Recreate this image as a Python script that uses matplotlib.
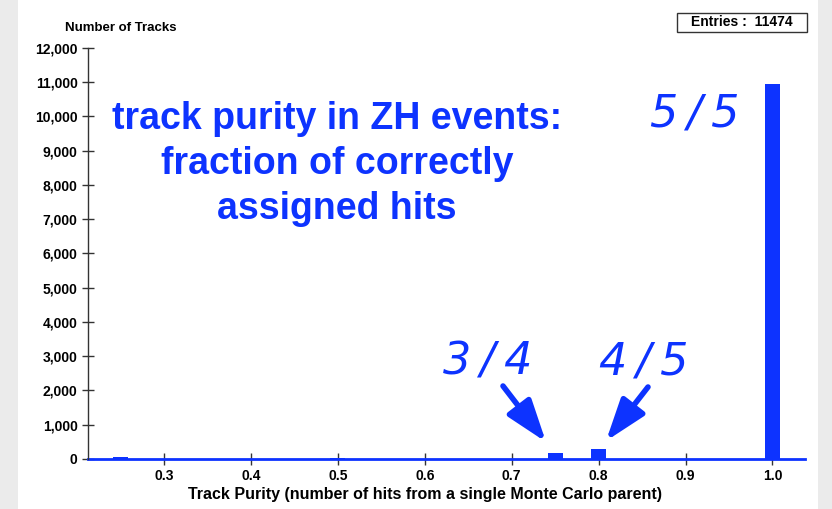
import matplotlib.pyplot as plt
from matplotlib.patches import Rectangle
from matplotlib.ticker import FuncFormatter

# purity values (fraction of hits from one MC parent) and track counts
purity = [0.25, 0.4, 0.5, 0.6, 0.75, 0.8, 1.0]
tracks = [45, 8, 22, 4, 165, 280, 10950]
entries = 11474

xticks = [0.3, 0.4, 0.5, 0.6, 0.7, 0.8, 0.9, 1.0]
yticks = list(range(0, 12001, 1000))

blue = '#0d33ff'
plt.rcParams['font.family'] = ['Liberation Sans', 'DejaVu Sans']

fig = plt.figure(figsize=(8.32, 5.09), dpi=100)
fig.patch.set_facecolor('#ebebeb')
# white page between the grey side strips
fig.patches.append(Rectangle((18 / 832, 0), 800 / 832, 1, transform=fig.transFigure,
                             facecolor='white', edgecolor='none', zorder=-1))

ax = fig.add_axes([88 / 832, 1 - 459 / 509, (805 - 88) / 832, (459 - 47.7) / 509])
ax.set_facecolor('none')
ax.set_zorder(1)

ax.bar(purity, tracks, width=0.0175, color=blue, align='center', zorder=3)
ax.axhline(0, color=blue, lw=2, zorder=2, clip_on=False)

ax.set_xlim(0.2125, 1.0375)
ax.set_ylim(0, 12000)
ax.set_xticks(xticks)
ax.set_yticks(yticks)
ax.xaxis.set_major_formatter(FuncFormatter(lambda v, p: f'{v:.1f}'))
ax.yaxis.set_major_formatter(FuncFormatter(lambda v, p: f'{int(v):,}'))
ax.tick_params(direction='inout', length=9, width=1, color='#333333',
               labelsize=10, pad=3)
for lab in ax.get_xticklabels() + ax.get_yticklabels():
    lab.set_fontweight('bold')

for s in ['top', 'right', 'bottom']:
    ax.spines[s].set_visible(False)
ax.spines['left'].set_color('#333333')
ax.spines['left'].set_linewidth(1)

fig.text(425 / 832, 1 - 494 / 509,
         'Track Purity (number of hits from a single Monte Carlo parent)',
         fontsize=11.5, fontweight='bold', ha='center', va='center')
fig.text(65 / 832, 1 - 28 / 509, 'Number of Tracks', fontsize=9.5,
         fontweight='bold', va='center', ha='left')

# statistics box
fig.patches.append(Rectangle((677 / 832, 1 - 32 / 509), 130 / 832, 19 / 509,
                             transform=fig.transFigure, facecolor='white',
                             edgecolor='#333333', lw=1, zorder=2))
fig.text(742 / 832, 1 - 22.5 / 509, f'Entries :  {entries}', fontsize=10,
         fontweight='bold', ha='center', va='center', zorder=3)

fig.text(337 / 832, 1 - 164 / 509,
         'track purity in ZH events:\nfraction of correctly\nassigned hits',
         fontsize=27, fontweight='bold', color=blue, ha='center', va='center',
         linespacing=1.32, zorder=3)

# handwritten labels with arrows
hand = dict(fontsize=32, color=blue, fontstyle='italic', ha='center',
            va='center', family=['DejaVu Sans'], zorder=3)
fig.text(695 / 832, 1 - 114 / 509, '5\u2009/\u20095', **hand)
fig.text(488 / 832, 1 - 362 / 509, '3\u2009/\u20094', **hand)
fig.text(644 / 832, 1 - 362 / 509, '4\u2009/\u20095', **hand)

arrow = dict(arrowstyle='-|>,head_length=1.6,head_width=0.55', color=blue, lw=4,
             mutation_scale=16, shrinkA=0, shrinkB=0)
ax.annotate('', xy=(546 / 832, 1 - 442 / 509), xytext=(503 / 832, 1 - 386 / 509),
            xycoords='figure fraction', textcoords='figure fraction', arrowprops=arrow)
ax.annotate('', xy=(606 / 832, 1 - 441 / 509), xytext=(648 / 832, 1 - 387 / 509),
            xycoords='figure fraction', textcoords='figure fraction', arrowprops=arrow)

fig.savefig('out.png', dpi=100)
